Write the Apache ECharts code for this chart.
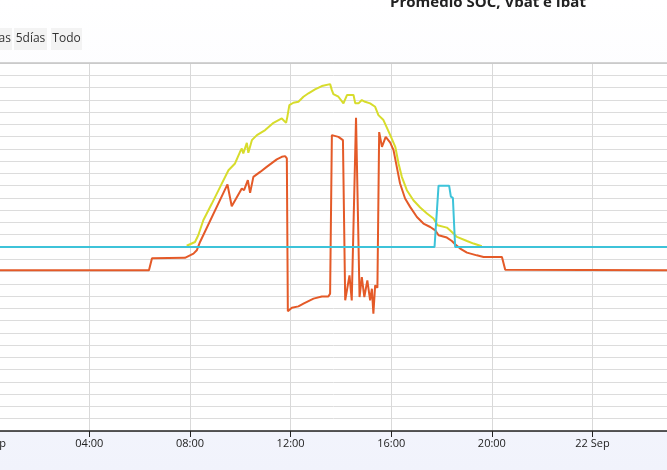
<!DOCTYPE html>
<html><head><meta charset="utf-8">
<script src="https://cdn.jsdelivr.net/npm/echarts@6/dist/echarts.min.js"></script>
<style>html,body{margin:0;padding:0;background:#fff}#c{width:667px;height:470px}</style>
</head><body><div id="c"></div>
<script>
const titleText = 'Promedio SOC, Vbat e Ibat';
const rangeButtons = ['3días', '5días', 'Todo'];
const xTickHours = [0, 4, 8, 12, 16, 20, 24];
const xTickLabels = ['21 Sep', '04:00', '08:00', '12:00', '16:00', '20:00', '22 Sep'];

// hours since 21 Sep 00:00, value
const vbat = [
  [7.87,0.10],[8.20,0.41],[8.33,0.96],[8.53,2.18],[8.87,3.54],[9.20,4.90],[9.53,6.26],[9.79,6.81],
  [9.99,7.76],[10.06,8.03],[10.12,7.63],[10.26,8.49],[10.32,7.68],[10.39,7.63],[10.46,8.71],[10.66,9.12],
  [10.99,9.53],[11.32,10.12],[11.65,10.48],[11.71,10.35],[11.82,10.12],[11.87,10.61],[11.95,11.57],
  [12.11,11.76],[12.31,11.84],[12.51,12.25],[12.71,12.53],[12.97,12.85],[13.24,13.12],[13.57,13.28],
  [13.64,12.79],[13.70,12.47],[13.90,12.25],[14.10,11.71],[14.17,11.84],[14.24,12.39],[14.50,12.39],
  [14.57,11.71],[14.70,11.71],[14.83,11.98],[14.96,11.84],[15.16,11.71],[15.36,11.43],[15.49,10.75],
  [15.69,10.35],[15.96,9.12],[16.16,8.17],[16.29,6.81],[16.42,5.72],[16.62,4.63],[16.88,3.81],
  [17.15,3.22],[17.42,2.73],[17.68,2.32],[17.84,1.77],[18.21,1.58],[18.41,1.22],[18.61,0.82],
  [19.01,0.49],[19.27,0.28],[19.60,0.06]
];
const ibat = [
  [0.30,-1.90],[6.37,-1.90],[6.49,-0.92],[7.80,-0.88],[8.14,-0.54],[8.27,-0.27],[8.40,0.41],[9.49,5.10],
  [9.66,3.32],[10.06,4.77],[10.15,4.63],[10.30,5.45],[10.39,4.41],[10.52,5.72],[10.79,6.12],[11.05,6.53],
  [11.45,7.14],[11.65,7.35],[11.78,7.41],[11.85,7.22],[11.89,-5.23],[12.05,-4.95],[12.31,-4.84],
  [12.51,-4.62],[12.91,-4.21],[13.24,-4.03],[13.50,-4.03],[13.57,-3.80],[13.64,9.12],[13.90,8.98],
  [14.08,8.71],[14.17,-4.35],[14.34,-2.31],[14.43,-4.35],[14.60,10.53],[14.74,-4.08],[14.83,-2.45],
  [14.93,-4.08],[15.05,-2.72],[15.16,-4.35],[15.23,-3.40],[15.29,-5.44],[15.36,-3.13],[15.45,-3.33],
  [15.52,9.37],[15.63,8.17],[15.78,8.98],[15.96,8.51],[16.09,7.90],[16.22,6.53],[16.35,5.18],
  [16.55,3.95],[16.75,3.27],[17.02,2.45],[17.28,1.91],[17.55,1.63],[17.75,1.36],[17.88,0.96],
  [18.21,0.77],[18.41,0.49],[18.54,0.22],[18.74,-0.13],[19.01,-0.46],[19.40,-0.68],[19.67,-0.82],
  [20.40,-0.82],[20.53,-1.86],[27.10,-1.90]
];
const soc = [
  [0.30,0],[17.72,0],[17.88,5.0],[18.30,5.0],[18.37,4.1],[18.45,4.0],[18.54,0],[27.10,0]
];

const chart = echarts.init(document.getElementById('c'), null, {renderer: 'canvas'});
const btnFont = '12px "Open Sans", sans-serif';
const option = {
  animation: false,
  backgroundColor: {type: 'linear', x: 0, y: 0, x2: 0, y2: 1,
    colorStops: [{offset: 0, color: '#ffffff'}, {offset: 1, color: '#f1f3fc'}]},
  grid: {left: -11.3, right: -1, top: 63, bottom: 39, show: true, backgroundColor: '#ffffff', borderWidth: 0,
    outerBoundsMode: 'none', containLabel: false},
  xAxis: [{
    type: 'value', min: 0, max: 27, interval: 4,
    axisLine: {show: true, onZero: false, lineStyle: {color: '#222', width: 1.5}},
    axisTick: {show: true, length: 6, lineStyle: {color: '#222'}},
    axisLabel: {color: '#222', fontSize: 11, margin: 7, fontFamily: '"Open Sans", sans-serif',
      formatter: v => { const i = xTickHours.indexOf(v); return i >= 0 ? xTickLabels[i] : ''; }},
    splitLine: {show: true, lineStyle: {color: '#d9d9d9'}}
  }, {
    type: 'value', position: 'top', min: 0, max: 27,
    axisLine: {show: true, onZero: false, lineStyle: {color: '#c4c4c4', width: 1.5}},
    axisTick: {show: false}, axisLabel: {show: false}, splitLine: {show: false}
  }],
  yAxis: {
    type: 'value', min: -15, max: 15, interval: 1,
    axisLine: {show: false, onZero: false}, axisTick: {show: false}, axisLabel: {show: false},
    splitLine: {lineStyle: {color: '#dcdcdc'}}
  },
  series: [
    {name: 'Vbat', type: 'line', data: vbat, showSymbol: false, lineStyle: {color: '#d7dc2c', width: 2}, z: 2},
    {name: 'Ibat', type: 'line', data: ibat, showSymbol: false, lineStyle: {color: '#e45a28', width: 2}, z: 3},
    {name: 'SOC', type: 'line', data: soc, showSymbol: false, lineStyle: {color: '#3dc3d9', width: 2}, z: 4}
  ],
  graphic: [
    {type: 'text', style: {text: titleText, x: 488, y: 2.5, textAlign: 'center', textVerticalAlign: 'middle',
      font: 'bold 15px "Open Sans", sans-serif', fill: '#222'}},
    {type: 'rect', shape: {x: -30, y: 28, width: 42, height: 22}, style: {fill: '#f3f3f3'}},
    {type: 'text', style: {text: rangeButtons[0], x: 11, y: 39, textAlign: 'right', textVerticalAlign: 'middle', font: btnFont, fill: '#333'}},
    {type: 'rect', shape: {x: 14, y: 28, width: 33, height: 22}, style: {fill: '#f3f3f3'}},
    {type: 'text', style: {text: rangeButtons[1], x: 30.5, y: 39, textAlign: 'center', textVerticalAlign: 'middle', font: btnFont, fill: '#333'}},
    {type: 'rect', shape: {x: 51, y: 28, width: 31, height: 22}, style: {fill: '#f3f3f3'}},
    {type: 'text', style: {text: rangeButtons[2], x: 66.5, y: 39, textAlign: 'center', textVerticalAlign: 'middle', font: btnFont, fill: '#333'}}
  ]
};
chart.setOption(option);
</script></body></html>
